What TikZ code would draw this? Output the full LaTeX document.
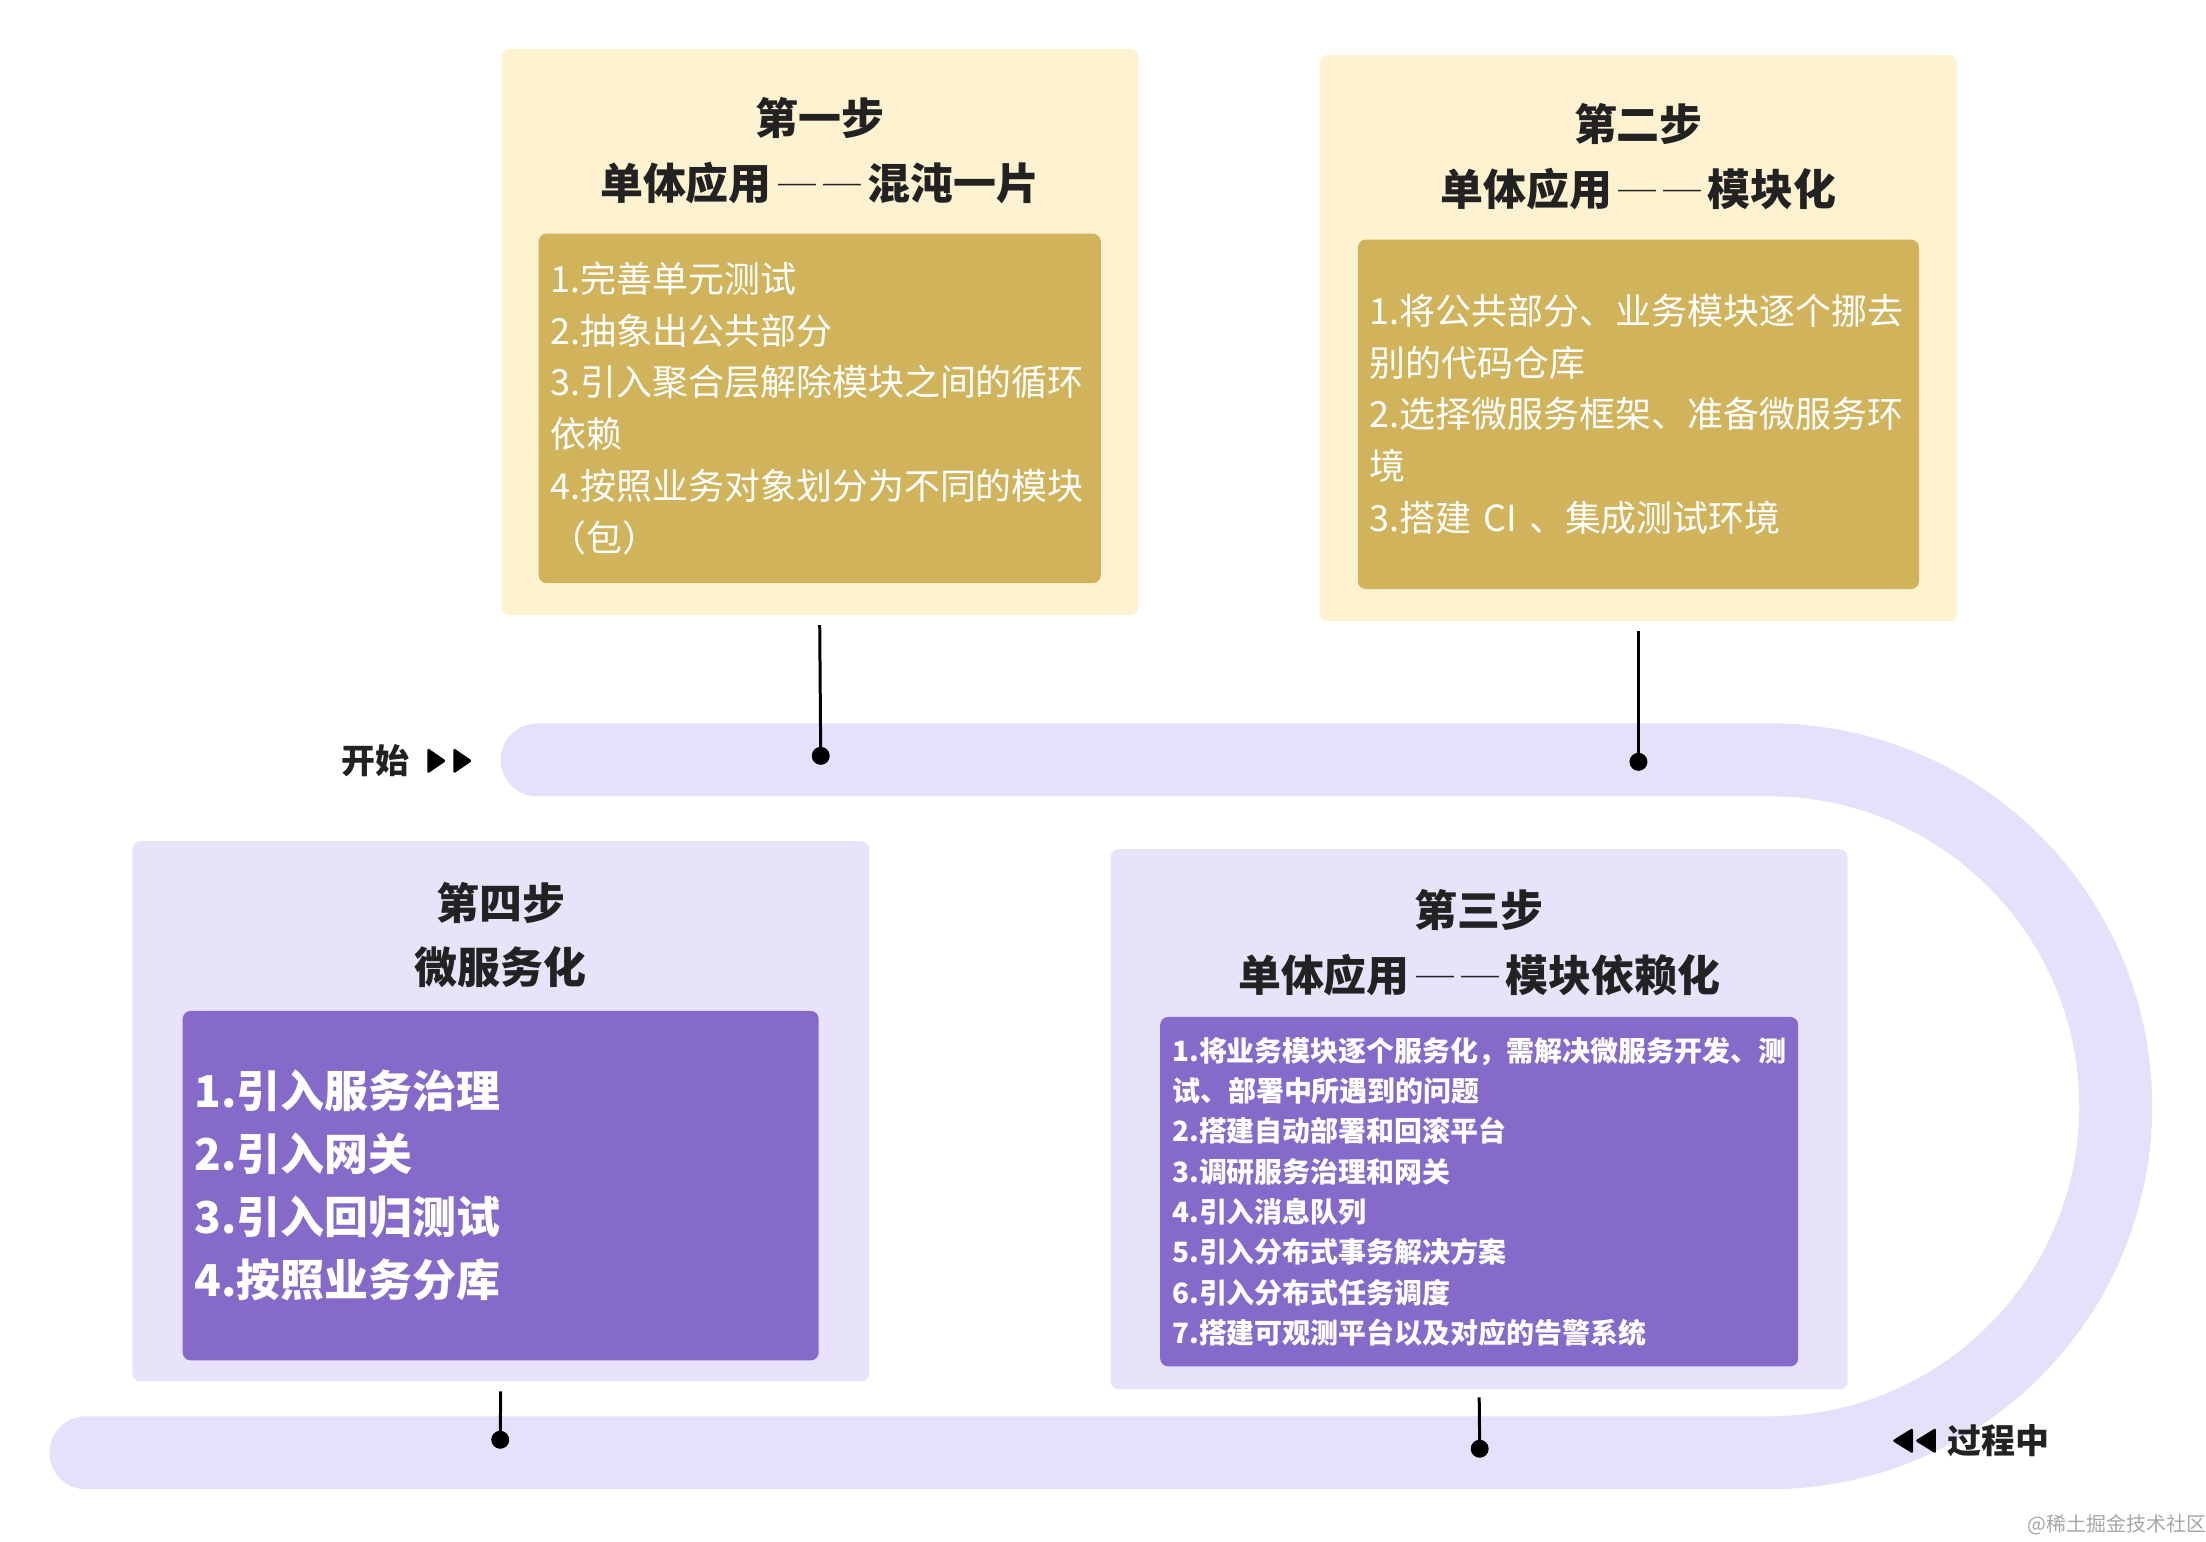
\documentclass[tikz,border=0pt]{standalone}
\usepackage{fontspec}
\setmainfont{Noto Sans CJK SC}
\usetikzlibrary{positioning}
\definecolor{creamBg}{HTML}{FEF2D0}
\definecolor{goldBox}{HTML}{D1B35B}
\definecolor{lavBg}{HTML}{E8E2FA}
\definecolor{lavTrack}{HTML}{E6E0FA}
\definecolor{violetBox}{HTML}{866AC9}
\definecolor{inkDark}{HTML}{222222}
\newcommand{\twodash}{{\mdseries\fontsize{19}{19}\selectfont\hspace{3.5pt}─\hspace{3.5pt}─\hspace{3pt}}}

\begin{document}
\begin{tikzpicture}[
  x=0.5pt, y=-0.5pt,
  every node/.style={inner sep=0pt, outer sep=0pt},
  panel/.style={rectangle, rounded corners=4pt},
  yellowpanel/.style={panel, fill=creamBg, minimum width=319pt, minimum height=283.5pt},
  purplepanel/.style={panel, fill=lavBg, minimum width=369pt, minimum height=270.5pt},
  steptitle/.style={align=center, text=inkDark, font=\fontsize{21.5}{32.5}\selectfont\bfseries},
  goldlist/.style={panel, fill=goldBox, text=white, align=left, inner xsep=6pt,
               minimum height=175pt, font=\fontsize{18}{26}\selectfont},
  violetlist/.style={panel, fill=violetBox, text=white, align=left, inner xsep=6pt,
               minimum height=175pt},
  pin/.style={line width=1.5pt, draw=black},
  dot/.style={circle, fill=black, minimum size=9pt},
  tag/.style={text=inkDark, font=\fontsize{17}{20}\selectfont\bfseries},
]
\fill[white] (0,0) rectangle (2206,1544);

% the road
\draw[lavTrack, line width=36.5pt, line cap=round]
  (538,761) -- (1772,761) arc[start angle=-90, end angle=90, radius=347] -- (86,1455);

% step boxes
\node[yellowpanel] (s1box) at (821,332.5) {};
\node[steptitle] (t1) at ([yshift=-50.75pt]s1box.north) {第一步\\单体应用\twodash 混沌一片};
\node[goldlist, text width=269.5pt, above=16pt of s1box.south] (l1) {%
  1.完善单元测试\\
  2.抽象出公共部分\\
  3.引入聚合层解除模块之间的循环\\
  依赖\\
  4.按照业务对象划分为不同的模块\\
  （包）};

\node[yellowpanel] (s2box) at (1641,338.5) {};
\node[steptitle] (t2) at ([yshift=-50.75pt]s2box.north) {第二步\\单体应用\twodash 模块化};
\node[goldlist, text width=269pt, above=16pt of s2box.south] (l2) {%
  1.将公共部分、业务模块逐个挪去\\
  别的代码仓库\\
  2.选择微服务框架、准备微服务环\\
  境\\
  3.搭建 CI 、集成测试环境};

\node[purplepanel] (s3box) at (1481.5,1121) {};
\node[steptitle] (t3) at ([yshift=-47pt]s3box.north) {第三步\\单体应用\twodash 模块依赖化};
\node[violetlist, text width=307.5pt, font=\fontsize{14}{20.2}\selectfont\bfseries,
      above=11.5pt of s3box.south] (l3) {%
  1.将业务模块逐个服务化，需解决微服务开发、测\\
  试、部署中所遇到的问题\\
  2.搭建自动部署和回滚平台\\
  3.调研服务治理和网关\\
  4.引入消息队列\\
  5.引入分布式事务解决方案\\
  6.引入分布式任务调度\\
  7.搭建可观测平台以及对应的告警系统};

\node[purplepanel] (s4box) at (501.5,1113) {};
\node[steptitle] (t4) at ([yshift=-47pt]s4box.north) {第四步\\微服务化};
\node[violetlist, text width=306.5pt, font=\fontsize{22}{31.5}\selectfont\bfseries,
      above=10.5pt of s4box.south] (l4) {%
  1.引入服务治理\\
  2.引入网关\\
  3.引入回归测试\\
  4.按照业务分库};

% pins onto the road
\node[dot] (d1) at (822,757) {};
\node[dot] (d2) at (1641,763) {};
\node[dot] (d3) at (1482,1451) {};
\node[dot] (d4) at (501,1442) {};
\draw[pin] ([yshift=-5pt]s1box.south) -- (d1);
\draw[pin] ([yshift=-5pt]s2box.south) -- (d2);
\draw[pin] ([yshift=-4pt]s3box.south) -- (d3);
\draw[pin] ([yshift=-5pt]s4box.south) -- (d4);

% start / in progress tags
\node[tag] (start) at (376,762) {开始};
\foreach \dx in {9pt,22pt}
  \fill[rounded corners=1.2pt] ([xshift=\dx, yshift=6.5pt]start.east)
    -- ++(9.5pt,-6.5pt) -- ++(-9.5pt,-6.5pt) -- cycle;
\node[tag] (mid) at (2002,1443) {过程中};
\foreach \dx in {-6pt,-17.5pt}
  \fill[rounded corners=1.2pt] ([xshift=\dx, yshift=6.5pt]mid.west)
    -- ++(-10.5pt,-6.5pt) -- ++(10.5pt,-6.5pt) -- cycle;

\node[text=gray!70, font=\fontsize{10}{12}\selectfont] (mark) at (2120,1527) {@稀土掘金技术社区};
\end{tikzpicture}
\end{document}
